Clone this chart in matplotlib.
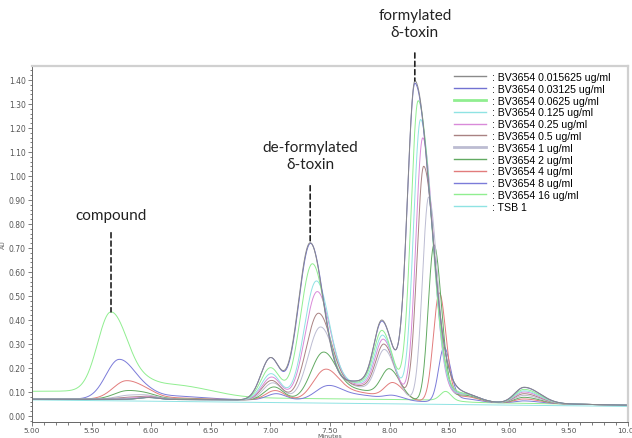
import numpy as np
import matplotlib
matplotlib.use("Agg")
import matplotlib.pyplot as plt
from matplotlib.ticker import MultipleLocator, FormatStrFormatter

# legend labels and trace colours (same order as the legend)
labels = [": BV3654 0.015625 ug/ml", ": BV3654 0.03125 ug/ml", ": BV3654 0.0625 ug/ml",
          ": BV3654 0.125 ug/ml", ": BV3654 0.25 ug/ml", ": BV3654 0.5 ug/ml",
          ": BV3654 1 ug/ml", ": BV3654 2 ug/ml", ": BV3654 4 ug/ml",
          ": BV3654 8 ug/ml", ": BV3654 16 ug/ml", ": TSB 1"]
colors = ['#8a8a8a', '#7272d2', '#90ee90', '#8fe3e3', '#d98ad9', '#a98282',
          '#bcbcd2', '#62aa62', '#e27c7c', '#7b7bd9', '#90ee90', '#8fe3e3']

# peak table (retention time in min, height in AU above baseline)
# index 0..10 = BV3654 samples, TSB 1 is drawn separately
cmp_t = [5.82, 5.82, 5.82, 5.82, 5.82, 5.82, 5.82, 5.80, 5.79, 5.73, 5.66]   # compound
cmp_h = [0, 0, 0, 0, 0.004, 0.008, 0.016, 0.034, 0.073, 0.159, 0.32]
a_t = [7.0, 7.0, 7.0, 7.005, 7.01, 7.01, 7.02, 7.03, 7.04, 7.05, 7.0]       # 7.0 min shoulder
a_h = [0.175, 0.175, 0.134, 0.11, 0.096, 0.082, 0.072, 0.055, 0.04, 0.027, 0]
b_t = [7.332, 7.335, 7.35, 7.383, 7.39, 7.40, 7.416, 7.44, 7.458, 7.477, 7.45]  # de-formylated
b_h = [0.645, 0.642, 0.556, 0.481, 0.437, 0.347, 0.289, 0.185, 0.116, 0.051, 0]
p_h = [0.08, 0.08, 0.075, 0.07, 0.065, 0.06, 0.055, 0.045, 0.035, 0.025, 0]   # 7.6-7.8 plateau
c_t = [7.939, 7.94, 7.94, 7.945, 7.95, 7.955, 7.96, 8.0, 8.03, 8.03, 8.0]     # 7.95 min peak
c_h = [0.294, 0.29, 0.254, 0.238, 0.225, 0.208, 0.189, 0.119, 0.068, 0.018, 0]
d_t = [8.213, 8.213, 8.24, 8.26, 8.278, 8.286, 8.328, 8.372, 8.417, 8.456, 8.47]  # formylated
d_h = [1.33, 1.32, 1.25, 1.173, 1.097, 0.979, 0.851, 0.65, 0.448, 0.222, 0.037]
d_sl = [0.065, 0.065, 0.062, 0.06, 0.058, 0.056, 0.052, 0.048, 0.05, 0.045, 0.045]
d_sr = [0.13, 0.13, 0.11, 0.099, 0.09, 0.093, 0.074, 0.063, 0.055, 0.054, 0.045]
t_h = [0.035, 0.035, 0.035, 0.035, 0.035, 0.035, 0.035, 0.03, 0.025, 0.015, 0]  # tailing
e_h = [0.067, 0.066, 0.058, 0.052, 0.047, 0.04, 0.033, 0.025, 0.018, 0.01, 0]   # 9.13 min peak
early_off = [0, 0, 0, 0, 0, 0, 0, 0, 0, 0, 0.025]
late_off = [0, 0, 0, 0, 0, 0, 0, 0, 0, 0, 0.008]
tsb_start, tsb_end = 0.067, 0.040


def peak(x, c, h, sl, sr):
    s = np.where(x < c, sl, sr)
    return h * np.exp(-0.5 * ((x - c) / s) ** 2)


x = np.linspace(5, 10, 2000)
traces = []
for i in range(11):
    y = 0.07 - 0.001 * (x - 5) ** 2
    y = y + peak(x, 5.98, 0.008, 0.08, 0.08)
    y = y + peak(x, cmp_t[i], cmp_h[i], 0.11, 0.14) + peak(x, 6.1, 0.1 * cmp_h[i], 0.3, 0.3)
    y = y + peak(x, a_t[i], a_h[i], 0.08, 0.08)
    y = y + peak(x, b_t[i], b_h[i], 0.1, 0.11)
    y = y + peak(x, 7.72, p_h[i], 0.2, 0.2)
    y = y + peak(x, c_t[i], c_h[i], 0.07, 0.09)
    y = y + peak(x, d_t[i], d_h[i], d_sl[i], d_sr[i])
    y = y + peak(x, 8.62, t_h[i], 0.12, 0.12)
    y = y + peak(x, 9.13, e_h[i], 0.08, 0.13)
    y = y + early_off[i] / (1 + np.exp((x - 6.6) / 0.12)) + late_off[i] / (1 + np.exp((x - 8.6) / 0.05))
    traces.append(y)
traces.append(tsb_start + (tsb_end - tsb_start) * (x - 5) / 5)

fig = plt.figure(figsize=(6.32, 4.39), dpi=100)
ax = fig.add_axes([32 / 632, 16 / 439, 596 / 632, 356 / 439])

lines = []
for i in range(len(traces) - 1, -1, -1):
    l, = ax.plot(x, traces[i], color=colors[i], lw=0.7)
    lines.insert(0, l)

ax.set_xlim(5, 10)
ax.set_ylim(-0.025, 1.458)
ax.xaxis.set_major_locator(MultipleLocator(0.5))
ax.xaxis.set_minor_locator(MultipleLocator(0.1))
ax.yaxis.set_major_locator(MultipleLocator(0.1))
ax.yaxis.set_minor_locator(MultipleLocator(0.02))
ax.xaxis.set_major_formatter(FormatStrFormatter('%.2f'))
ax.yaxis.set_major_formatter(FormatStrFormatter('%.2f'))
ax.tick_params(which='both', colors='#666666', labelcolor='#555555', labelsize=5.5, width=0.6)
ax.tick_params(which='major', length=3, pad=1.5)
ax.tick_params(axis='x', which='major', pad=0.6, labelsize=5.3)
ax.tick_params(which='minor', length=1.8)
for s in ['left', 'bottom']:
    ax.spines[s].set_color('#666666')
    ax.spines[s].set_linewidth(0.7)
for s in ['top', 'right']:
    ax.spines[s].set_color('#d0d0d0')
    ax.spines[s].set_linewidth(1.6)
ax.set_xlabel('Minutes', fontsize=4.5, color='#555555', va='bottom')
ax.xaxis.set_label_coords(0.5, -0.045)
ax.set_ylabel('AU', fontsize=4.5, color='#555555', labelpad=2)

leg = ax.legend(lines, labels, loc='upper left', bbox_to_anchor=(0.708, 0.983),
                frameon=False, borderaxespad=0, borderpad=0, handlelength=3.0,
                handletextpad=0.65, labelspacing=0.17,
                prop={'family': 'Liberation Sans', 'size': 7.6})
for h in leg.legend_handles:
    h.set_linewidth(1.0)
leg.legend_handles[2].set_linewidth(2.0)
leg.legend_handles[6].set_linewidth(2.0)

# annotations anchored at the apex of the relevant trace
afont = dict(family=['Lato', 'DejaVu Sans'], size=11, color='#222222')
dash = dict(arrowstyle='-', linestyle=(0, (3, 2)), color='#222222', lw=1.2, shrinkA=0, shrinkB=0)
marks = [("compound", 10, 5.3, 6.2, 57, 70),
         ("de-formylated\nδ-toxin", 0, 7.2, 7.5, 41, 63),
         ("formylated\nδ-toxin", 0, 8.0, 8.4, 20, 41)]
for text, idx, lo, hi, L, off in marks:
    sel = (x > lo) & (x < hi)
    k = np.argmax(traces[idx][sel])
    xp, yp = x[sel][k], traces[idx][sel][k]
    ax.annotate('', xy=(xp, yp), xytext=(0, L), textcoords='offset points',
                arrowprops=dash, annotation_clip=False)
    ax.annotate(text, xy=(xp, yp), xytext=(0, off), textcoords='offset points',
                ha='center', va='center', linespacing=1.3, annotation_clip=False, **afont)

fig.savefig('out.png', dpi=100)
